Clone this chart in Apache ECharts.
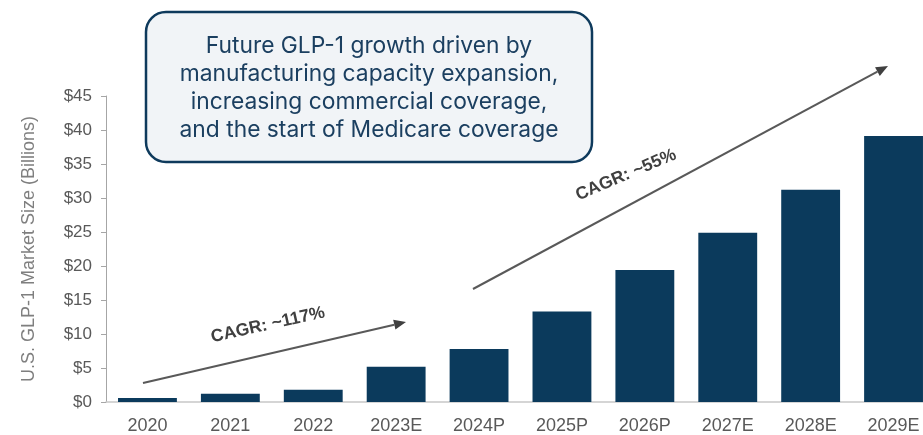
<!DOCTYPE html>
<html>
<head>
<meta charset="utf-8">
<script src="https://cdn.jsdelivr.net/npm/echarts@6/dist/echarts.min.js"></script>
<style>
  html, body { margin: 0; padding: 0; background: #ffffff; overflow: hidden; }
  /* the last bar runs off the right edge, so the canvas is wider than the window */
  #chart { width: 950px; height: 435px; }
</style>
</head>
<body>
<div id="chart"></div>
<script>
// U.S. GLP-1 market size, $ billions
const years = ['2020', '2021', '2022', '2023E', '2024P', '2025P', '2026P', '2027E', '2028E', '2029E'];
const marketSize = [0.6, 1.2, 1.8, 5.2, 7.8, 13.3, 19.4, 24.9, 31.2, 39.1];
const yTicks = [0, 5, 10, 15, 20, 25, 30, 35, 40, 45];

const calloutLines = [
  'Future GLP-1 growth driven by',
  'manufacturing capacity expansion,',
  'increasing commercial coverage,',
  'and the start of Medicare coverage'
];

// Trend arrows: start/end in pixels, label text, label centre and angle (deg)
const trends = [
  { from: [143, 383], to: [406, 322], text: 'CAGR: ~117%', at: [268, 325], angle: 12.5 },
  { from: [473, 289], to: [888, 66], text: 'CAGR: ~55%', at: [626, 175], angle: 23 }
];

const BAR = '#0b3a5c';
const AXIS_TEXT = '#595959';
const SANS = '"Liberation Sans", Arial, sans-serif';

function arrowGraphics(t) {
  const [x1, y1] = t.from, [x2, y2] = t.to;
  const a = Math.atan2(y2 - y1, x2 - x1);
  const len = 12, half = 5;
  const bx = x2 - len * Math.cos(a), by = y2 - len * Math.sin(a);
  const px = -Math.sin(a) * half, py = Math.cos(a) * half;
  return [
    { type: 'line', shape: { x1, y1, x2: bx, y2: by }, style: { stroke: '#595959', lineWidth: 2 }, z: 10 },
    { type: 'polygon', shape: { points: [[x2, y2], [bx + px, by + py], [bx - px, by - py]] },
      style: { fill: '#404040' }, z: 10 },
    { type: 'text', x: t.at[0], y: t.at[1], rotation: t.angle * Math.PI / 180,
      style: { text: t.text, fill: '#404040', font: 'bold 17.5px ' + SANS,
               align: 'center', verticalAlign: 'middle' }, z: 10 }
  ];
}

const chart = echarts.init(document.getElementById('chart'), null, { renderer: 'canvas' });

chart.setOption({
  animation: false,
  grid: { left: 106, top: 96, width: 829, height: 309, containLabel: false },
  xAxis: {
    type: 'category',
    data: years,
    axisLine: { lineStyle: { color: '#c8c8c8', width: 1.5 } },
    axisTick: { show: false },
    axisLabel: { color: AXIS_TEXT, fontSize: 18, margin: 15, fontFamily: SANS }
  },
  yAxis: {
    type: 'value',
    min: yTicks[0],
    max: yTicks[yTicks.length - 1],
    interval: yTicks[1] - yTicks[0],
    name: 'U.S. GLP-1 Market Size (Billions)',
    nameLocation: 'middle',
    nameGap: 68,
    nameRotate: 90,
    nameTextStyle: { color: '#7f7f7f', fontSize: 18, fontFamily: SANS },
    axisLine: { show: true, lineStyle: { color: '#a6a6a6', width: 1 } },
    axisTick: { show: true, length: 5, lineStyle: { color: '#a6a6a6' } },
    splitLine: { show: false },
    axisLabel: {
      color: AXIS_TEXT, fontSize: 17, margin: 14, fontFamily: SANS,
      formatter: v => '$' + v
    }
  },
  series: [{
    type: 'bar',
    data: marketSize,
    barWidth: '71%',
    itemStyle: { color: BAR }
  }],
  graphic: [
    {
      type: 'rect',
      shape: { x: 146, y: 12, width: 446, height: 150, r: 20 },
      style: { fill: '#f1f4f7', stroke: '#0e3a5c', lineWidth: 2.5 },
      z: 20
    },
    {
      type: 'text',
      x: 369, y: 88,
      style: {
        text: calloutLines.join('\n'),
        fill: '#1b3f60',
        font: '22.8px Inter, "Noto Sans", sans-serif',
        lineHeight: 28,
        align: 'center',
        verticalAlign: 'middle'
      },
      z: 21
    },
    ...trends.flatMap(arrowGraphics)
  ]
});
</script>
</body>
</html>
